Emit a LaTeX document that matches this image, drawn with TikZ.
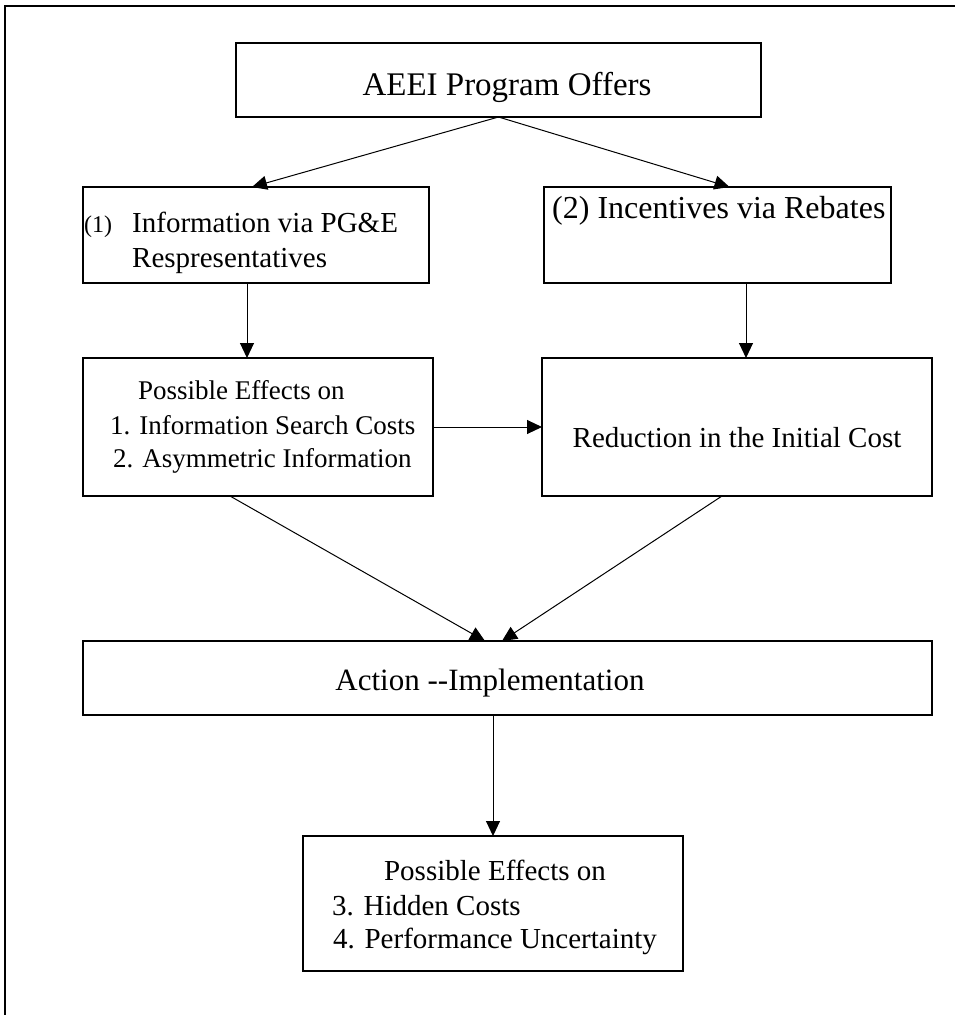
\documentclass[tikz,border=0pt]{standalone}
\usepackage{fontspec}
\setmainfont{Liberation Serif}
\usetikzlibrary{arrows.meta}
\begin{document}
\begin{tikzpicture}[x=1pt,y=-1pt,
  box/.style={draw, line width=1.4pt, inner sep=0pt, outer sep=0pt},
  arr/.style={line width=1pt, -{Triangle[length=15pt,width=14pt]}},
  txt/.style={inner sep=0pt, anchor=base west},
  ctxt/.style={inner sep=0pt, anchor=base},
  fa/.style={font=\fontsize{29}{34}\selectfont},
  fb/.style={font=\fontsize{31}{36}\selectfont},
  fi/.style={font=\fontsize{32}{37}\selectfont},
  ft/.style={font=\fontsize{33}{38}\selectfont},
  fc/.style={font=\fontsize{27}{32}\selectfont},
  fs/.style={font=\fontsize{24}{28}\selectfont}
  ]
\useasboundingbox (0,0) rectangle (955,1015);
\draw[line width=1.5pt] (5,1015) -- (5,6) -- (955,6);

% boxes
\node[box, minimum width=525pt, minimum height=74pt] (top) at (498.5,80) {};
\node[box, minimum width=346pt, minimum height=96pt] (info) at (256,235) {};
\node[box, minimum width=347pt, minimum height=96pt] (inc) at (717.5,235) {};
\node[box, minimum width=350pt, minimum height=138pt] (eff) at (258,427) {};
\node[box, minimum width=390pt, minimum height=138pt] (red) at (737,427) {};
\node[box, minimum width=849pt, minimum height=74pt] (act) at (507.5,678) {};
\node[box, minimum width=380pt, minimum height=135pt] (bot) at (493,903.5) {};

% texts
\node[ctxt, ft] (t0) at (507,95) {AEEI Program Offers};
\node[txt, fs] (t1a) at (84,232) {(1)};
\node[txt, fa] (t1b) at (132,232) {Information via PG\&E};
\node[txt, fa] (t1c) at (132,267) {Respresentatives};
\node[txt, fi] (t2) at (552,218) {(2) Incentives via Rebates};
\node[txt, fc] (t3a) at (138,399) {Possible Effects on};
\node[txt, fc] (t3b) at (110,434) {1. Information Search Costs};
\node[txt, fc] (t3c) at (113,467) {2. Asymmetric Information};
\node[ctxt, fa] (t4) at (737,447) {Reduction in the Initial Cost};
\node[ctxt, fb] (t5) at (490,690) {Action -{}-Implementation};
\node[ctxt, fa] (t6a) at (495,880) {Possible Effects on};
\node[txt, fa] (t6b) at (332,915) {3. Hidden Costs};
\node[txt, fa] (t6c) at (333,948) {4. Performance Uncertainty};

% connectors
\draw[arr] (top.south) -- ([xshift=-4pt]info.north);
\draw[arr] (top.south) -- ([xshift=12pt]inc.north);
\draw[arr] ([xshift=-9pt]info.south) -- ([xshift=-9pt]info.south |- eff.north);
\draw[arr] ([xshift=28.5pt]inc.south) -- ([xshift=28.5pt]inc.south |- red.north);
\draw[arr] (eff.east) -- (red.west);
\draw[arr] ([xshift=-28pt]eff.south) -- ([xshift=-22.5pt]act.north);
\draw[arr] ([xshift=-15pt]red.south) -- ([xshift=-5.5pt]act.north);
\draw[arr] (act.south -| bot.north) -- (bot.north);
\end{tikzpicture}
\end{document}
